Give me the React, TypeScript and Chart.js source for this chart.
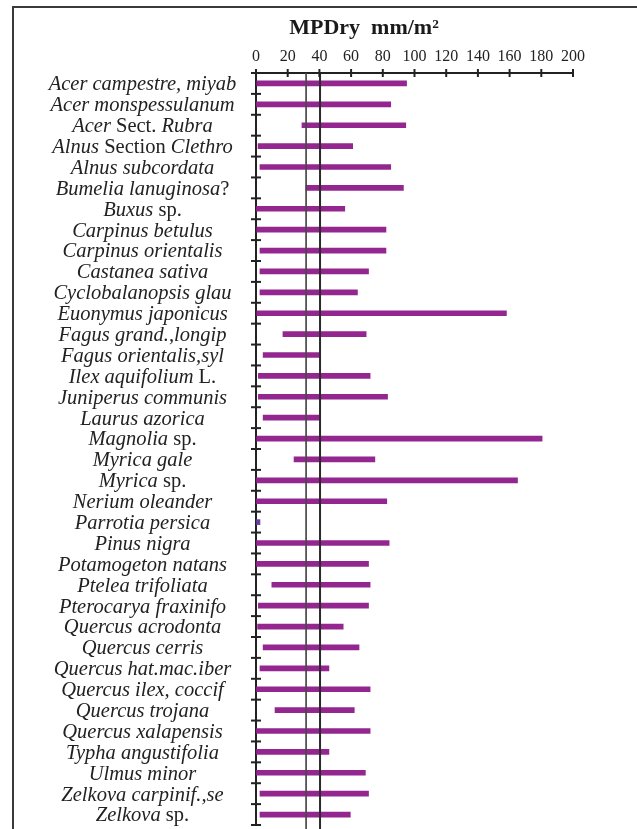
import React, { useEffect, useRef } from "react";
import { Chart, registerables } from "chart.js";

Chart.register(...registerables);

// Taxa; text wrapped in *...* is set in italics, the rest upright.
const categories: string[] = [
  "*Acer campestre, miyab*",
  "*Acer monspessulanum*",
  "*Acer* Sect. *Rubra*",
  "*Alnus* Section *Clethro*",
  "*Alnus subcordata*",
  "*Bumelia lanuginosa*?",
  "*Buxus* sp.",
  "*Carpinus betulus*",
  "*Carpinus orientalis*",
  "*Castanea sativa*",
  "*Cyclobalanopsis glau*",
  "*Euonymus japonicus*",
  "*Fagus grand.,longip*",
  "*Fagus orientalis,syl*",
  "*Ilex aquifolium* L.",
  "*Juniperus communis*",
  "*Laurus azorica*",
  "*Magnolia* sp.",
  "*Myrica gale*",
  "*Myrica* sp.",
  "*Nerium oleander*",
  "*Parrotia persica*",
  "*Pinus nigra*",
  "*Potamogeton natans*",
  "*Ptelea trifoliata*",
  "*Pterocarya fraxinifo*",
  "*Quercus acrodonta*",
  "*Quercus cerris*",
  "*Quercus hat.mac.iber*",
  "*Quercus ilex, coccif*",
  "*Quercus trojana*",
  "*Quercus xalapensis*",
  "*Typha angustifolia*",
  "*Ulmus minor*",
  "*Zelkova carpinif.,se*",
  "*Zelkova* sp.",
];

// MPDry range (mm/m²) for each taxon: lower and upper limits
const rangeStart: number[] = [
  0.5, 0, 29, 1.3, 2.5, 31.5, 0, 0.5, 2.5, 2.5, 2.5, 0.5,
  17, 4.5, 1.5, 1.5, 4.5, 0.5, 24, 0, 0, 0, 0, 0,
  10, 1.5, 1, 4.5, 2.5, 0, 12, 0, 0, 0, 2.5, 2.5,
];
const rangeEnd: number[] = [
  95, 85, 94.5, 61, 85, 93, 56, 82, 82, 71, 64, 158,
  69.5, 40.5, 72, 83, 40.5, 180.5, 75, 165, 82.5, 2.5, 84, 71,
  72, 71, 55, 65, 46, 72, 62, 72, 46, 69, 71, 59.5,
];

// Axis ticks and the two vertical reference limits
const xTicks: number[] = [0, 20, 40, 60, 80, 100, 120, 140, 160, 180, 200];
const referenceLines: number[] = [31.6, 40.4];

const titleText = "MPDry  mm/m²";
const singleValueTaxon = "Parrotia persica";

const plainLabels = categories.map((c) => c.replace(/\*/g, ""));

const SERIF = '"Liberation Serif", "Times New Roman", serif';
const LABEL_SIZE = 20.5;
const LABEL_CENTER_X = 142.5;
const LABEL_DROP = 1.5;
const INK = "#222222";

const TITLE_SIZE = 22;
const TITLE_PAD_TOP = 15;
const TITLE_PAD_BOTTOM = 2;
const PLOT_TOP = 73;
const PLOT_LEFT = 256;
const LEFT_PAD = 155;

const framePlugin = {
  id: "frame",
  beforeDraw(chart: any) {
    const { ctx, width, height } = chart;
    ctx.save();
    ctx.fillStyle = "#ffffff";
    ctx.fillRect(0, 0, width, height);
    ctx.strokeStyle = "#3a3a3a";
    ctx.lineWidth = 2;
    ctx.beginPath();
    ctx.moveTo(13, height);
    ctx.lineTo(13, 7);
    ctx.lineTo(width, 7);
    ctx.stroke();
    ctx.restore();
  },
};

const axisDecorPlugin = {
  id: "axisDecor",
  afterDatasetsDraw(chart: any) {
    const { ctx, chartArea, scales } = chart;
    const x = scales.x;
    const y = scales.y;
    ctx.save();
    // reference limits
    referenceLines.forEach((v, i) => {
      const px = x.getPixelForValue(v);
      ctx.strokeStyle = i === 0 ? "#484848" : "#2a2a2a";
      ctx.lineWidth = i === 0 ? 1.7 : 2;
      ctx.beginPath();
      ctx.moveTo(px, chartArea.top);
      ctx.lineTo(px, chart.height);
      ctx.stroke();
    });
    // tick marks crossing the top axis
    ctx.strokeStyle = INK;
    ctx.lineWidth = 2;
    xTicks.forEach((v) => {
      const px = x.getPixelForValue(v);
      ctx.beginPath();
      ctx.moveTo(px, chartArea.top - 4);
      ctx.lineTo(px, chartArea.top + 4);
      ctx.stroke();
    });
    // tick marks at category boundaries crossing the left axis
    const half = (y.getPixelForValue(1) - y.getPixelForValue(0)) / 2;
    for (let i = 0; i <= categories.length; i++) {
      const py = y.getPixelForValue(i) - half;
      ctx.beginPath();
      ctx.moveTo(chartArea.left - 5, py);
      ctx.lineTo(chartArea.left + 5, py);
      ctx.stroke();
    }
    ctx.restore();
  },
};

const richLabelPlugin = {
  id: "richLabels",
  afterDraw(chart: any) {
    const { ctx, scales } = chart;
    const y = scales.y;
    const italic = `italic ${LABEL_SIZE}px ${SERIF}`;
    const roman = `${LABEL_SIZE}px ${SERIF}`;
    ctx.save();
    ctx.fillStyle = INK;
    ctx.textBaseline = "middle";
    ctx.textAlign = "left";
    categories.forEach((label, i) => {
      const parts = label.split("*");
      const widths = parts.map((p, k) => {
        ctx.font = k % 2 === 1 ? italic : roman;
        return ctx.measureText(p).width;
      });
      const total = widths.reduce((a, b) => a + b, 0);
      let cx = LABEL_CENTER_X - total / 2;
      const py = y.getPixelForValue(i) + LABEL_DROP;
      parts.forEach((p, k) => {
        ctx.font = k % 2 === 1 ? italic : roman;
        ctx.fillText(p, cx, py);
        cx += widths[k];
      });
    });
    ctx.restore();
  },
};

export default function App() {
  const canvasRef = useRef<HTMLCanvasElement | null>(null);

  useEffect(() => {
    const canvas = canvasRef.current;
    if (!canvas) return;
    const chart = new Chart(canvas, {
      type: "bar",
      data: {
        labels: plainLabels,
        datasets: [
          {
            label: "MPDry",
            data: rangeStart.map((s, i) => [s, rangeEnd[i]]),
            backgroundColor: (c: any) =>
              plainLabels[c.dataIndex] === singleValueTaxon ? "#6a3fa0" : "#93278f",
            borderWidth: 0,
            barThickness: 5,
          },
        ],
      },
      options: {
        indexAxis: "y",
        responsive: false,
        animation: false,
        devicePixelRatio: 1,
        layout: { padding: { left: LEFT_PAD, right: 64, top: 0, bottom: 4 } },
        plugins: {
          legend: { display: false },
          tooltip: { enabled: false },
          title: {
            display: true,
            text: titleText,
            color: "#1a1a1a",
            font: { family: SERIF, size: TITLE_SIZE, weight: "bold", lineHeight: 1.2 },
            padding: { top: TITLE_PAD_TOP, bottom: TITLE_PAD_BOTTOM },
          },
        },
        scales: {
          x: {
            type: "linear",
            position: "top",
            min: 0,
            max: 200,
            afterBuildTicks: (scale: any) => {
              scale.ticks = xTicks.map((v) => ({ value: v }));
            },
            afterFit: (scale: any) => {
              scale.height =
                PLOT_TOP - (TITLE_PAD_TOP + TITLE_SIZE * 1.2 + TITLE_PAD_BOTTOM);
            },
            ticks: {
              color: INK,
              font: { family: SERIF, size: 16 },
              padding: 7,
              maxRotation: 0,
            },
            grid: { drawOnChartArea: false, drawTicks: false },
            border: { display: true, color: INK, width: 2 },
          },
          y: {
            type: "category",
            offset: true,
            afterFit: (scale: any) => {
              scale.width = PLOT_LEFT - LEFT_PAD;
            },
            ticks: { display: false },
            grid: { drawOnChartArea: false, drawTicks: false, offset: true },
            border: { display: true, color: INK, width: 2 },
          },
        },
      },
      plugins: [framePlugin, axisDecorPlugin, richLabelPlugin],
    } as any);
    return () => chart.destroy();
  }, []);

  return (
    <div style={{ position: "fixed", left: 0, top: 0, width: 637, height: 829, background: "#fff" }}>
      <canvas ref={canvasRef} width={637} height={829} style={{ display: "block" }} />
    </div>
  );
}
